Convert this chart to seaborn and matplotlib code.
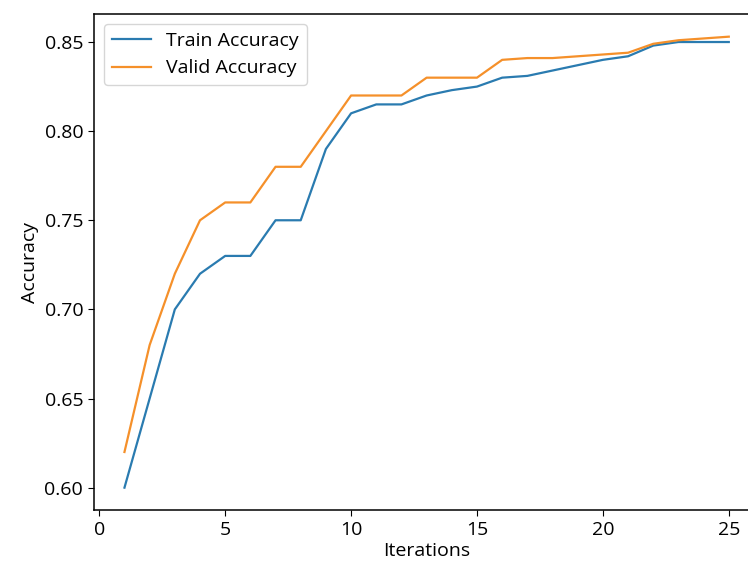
import matplotlib
matplotlib.use("Agg")
import matplotlib.pyplot as plt
import seaborn as sns
import pandas as pd

iterations = list(range(1, 26))
train_acc = [0.600, 0.650, 0.700, 0.720, 0.730, 0.730, 0.750, 0.750, 0.790, 0.810,
             0.815, 0.815, 0.820, 0.823, 0.825, 0.830, 0.831, 0.834, 0.837, 0.840,
             0.842, 0.848, 0.850, 0.850, 0.850]
valid_acc = [0.620, 0.680, 0.720, 0.750, 0.760, 0.760, 0.780, 0.780, 0.800, 0.820,
             0.820, 0.820, 0.830, 0.830, 0.830, 0.840, 0.841, 0.841, 0.842, 0.843,
             0.844, 0.849, 0.851, 0.852, 0.853]

df = pd.DataFrame({
    "Iterations": iterations * 2,
    "Accuracy": train_acc + valid_acc,
    "Series": ["Train Accuracy"] * len(iterations) + ["Valid Accuracy"] * len(iterations),
})

plt.rcParams["font.family"] = ["Open Sans", "DejaVu Sans"]
plt.rcParams["font.size"] = 14
plt.rcParams["axes.linewidth"] = 1.1
plt.rcParams["xtick.major.size"] = 4.5
plt.rcParams["ytick.major.size"] = 4.5

fig, ax = plt.subplots(figsize=(7.48, 5.65), dpi=100)
sns.lineplot(data=df, x="Iterations", y="Accuracy", hue="Series",
             palette=["#2a7bb0", "#f5902a"], linewidth=1.6, ax=ax)
ax.legend(title=None, loc="upper left", fontsize=14)
ax.set_xticks([0, 5, 10, 15, 20, 25])
ax.set_xlabel("Iterations", fontsize=14, labelpad=2)
ax.set_ylabel("Accuracy", fontsize=14, labelpad=4)
fig.subplots_adjust(left=0.126, right=1.0147, top=0.975, bottom=0.097)
fig.savefig("out.png", dpi=100)
